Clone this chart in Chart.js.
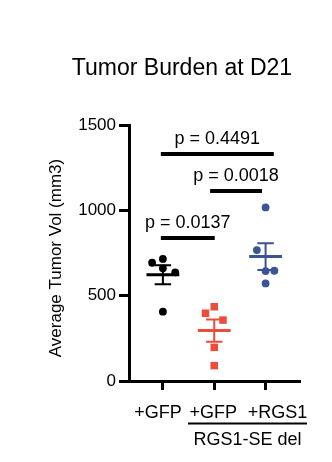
<!DOCTYPE html>
<html>
<head>
<meta charset="utf-8">
<script src="https://cdn.jsdelivr.net/npm/chart.js@4"></script>
<style>
  html, body { margin: 0; padding: 0; background: #fff; }
  canvas { display: block; }
</style>
</head>
<body>
<canvas id="myChart" width="332" height="462"></canvas>
<script>
// grupos y valores de cada raton (mm3)
const grupos = ["+GFP", "+GFP", "+RGS1"];
const gfpControl = [693, 715, 660, 637, 406];
const gfpDel = [435, 397, 357, 197, 90];
const rgs1Del = [1017, 767, 646, 644, 572];
// desplazamiento horizontal de cada punto (unidades del eje x)
const jitterControl = [-0.21, 0, 0, 0.24, 0];
const jitterGfpDel = [0, -0.17, 0.17, 0, 0];
const jitterRgs1 = [0, -0.17, 0.17, 0, 0];
// comparaciones: texto, altura de la barra y extremos en x
const pTextos = ["p = 0.0137", "p = 0.4491", "p = 0.0018"];
const pAltura = [838, 1330, 1113];
const pDesde = [-0.04, -0.04, 0.92];
const pHasta = [1.01, 2.16, 1.93];
const yTicks = [0, 500, 1000, 1500];

const FUENTE = "'Liberation Sans', Arial, sans-serif";
const colores = ["#000000", "rgb(234,77,60)", "rgb(58,84,148)"];
const series = [gfpControl, gfpDel, rgs1Del];
const jitters = [jitterControl, jitterGfpDel, jitterRgs1];

function media(arr) {
  return arr.reduce((a, b) => a + b, 0) / arr.length;
}
function sem(arr) {
  const m = media(arr);
  const v = arr.reduce((a, b) => a + (b - m) * (b - m), 0) / (arr.length - 1);
  return Math.sqrt(v / arr.length);
}

// lineas de media y error estandar, debajo de los puntos
const mediaSem = {
  id: "mediaSem",
  beforeDatasetsDraw(chart) {
    const { ctx, scales: { x, y } } = chart;
    ctx.save();
    series.forEach((vals, i) => {
      const m = media(vals), s = sem(vals);
      ctx.strokeStyle = colores[i];
      ctx.lineWidth = 3;
      ctx.beginPath();
      ctx.moveTo(x.getPixelForValue(i - 0.32), y.getPixelForValue(m));
      ctx.lineTo(x.getPixelForValue(i + 0.32), y.getPixelForValue(m));
      ctx.stroke();
      ctx.lineWidth = 2;
      ctx.beginPath();
      ctx.moveTo(x.getPixelForValue(i), y.getPixelForValue(m + s));
      ctx.lineTo(x.getPixelForValue(i), y.getPixelForValue(m - s));
      [m + s, m - s].forEach(v => {
        ctx.moveTo(x.getPixelForValue(i - 0.16), y.getPixelForValue(v));
        ctx.lineTo(x.getPixelForValue(i + 0.16), y.getPixelForValue(v));
      });
      ctx.stroke();
    });
    ctx.restore();
  }
};

// barras de significancia, titulos y etiquetas del eje x
const textos = {
  id: "textos",
  afterDraw(chart) {
    const { ctx, scales: { x, y } } = chart;
    ctx.save();
    ctx.fillStyle = "#000";
    ctx.strokeStyle = "#000";

    pTextos.forEach((t, i) => {
      const x0 = x.getPixelForValue(pDesde[i]);
      const x1 = x.getPixelForValue(pHasta[i]);
      const py = y.getPixelForValue(pAltura[i]);
      ctx.lineWidth = 4;
      ctx.beginPath();
      ctx.moveTo(x0, py);
      ctx.lineTo(x1, py);
      ctx.stroke();
      ctx.font = "18px " + FUENTE;
      ctx.textAlign = "center";
      ctx.textBaseline = "alphabetic";
      ctx.fillText(t, (x0 + x1) / 2, py - 10);
    });

    ctx.font = "23px " + FUENTE;
    ctx.textAlign = "center";
    ctx.fillText("Tumor Burden at D21", 182, 75);

    ctx.save();
    ctx.translate(56, 258);
    ctx.rotate(-Math.PI / 2);
    ctx.font = "17px " + FUENTE;
    ctx.textBaseline = "middle";
    ctx.fillText("Average Tumor Vol (mm3)", 0, 0);
    ctx.restore();

    // etiquetas de grupo
    ctx.font = "18px " + FUENTE;
    ctx.textBaseline = "alphabetic";
    const desplaz = [-5, -1, 12];
    grupos.forEach((g, i) => {
      ctx.fillText(g, x.getPixelForValue(i) + desplaz[i], 418);
    });
    ctx.lineWidth = 2;
    ctx.beginPath();
    ctx.moveTo(188, 423.5);
    ctx.lineTo(307, 423.5);
    ctx.stroke();
    ctx.fillText("RGS1-SE del", 247.5, 445);
    ctx.restore();
  }
};

const datasets = series.map((vals, i) => ({
  data: vals.map((v, k) => ({ x: i + jitters[i][k], y: v })),
  pointStyle: i === 1 ? "rect" : "circle",
  pointRadius: i === 1 ? 5.3 : 3.9,
  backgroundColor: colores[i],
  borderColor: colores[i],
  borderWidth: 0,
  showLine: false
}));

const config = {
  type: "scatter",
  data: { datasets },
  options: {
    responsive: false,
    animation: false,
    devicePixelRatio: 1,
    layout: { padding: { left: 0, top: 125, right: 32, bottom: 0 } },
    plugins: { legend: { display: false }, tooltip: { enabled: false } },
    scales: {
      x: {
        type: "linear",
        min: -0.66,
        max: 2.67,
        afterFit: (s) => { s.height = 81; },
        afterBuildTicks: (s) => { s.ticks = [0, 1, 2].map(v => ({ value: v })); },
        ticks: { display: false },
        grid: { drawOnChartArea: false, drawTicks: true, tickLength: 9, tickWidth: 3, tickColor: "#000" },
        border: { display: true, color: "#000", width: 3 }
      },
      y: {
        min: 0,
        max: 1500,
        afterFit: (s) => { s.width = 129; },
        afterBuildTicks: (s) => { s.ticks = yTicks.map(v => ({ value: v })); },
        ticks: {
          color: "#000",
          padding: 3,
          font: { family: FUENTE, size: 17 },
          callback: (v) => String(v) // sin separador de miles
        },
        grid: { drawOnChartArea: false, drawTicks: true, tickLength: 10, tickWidth: 3, tickColor: "#000" },
        border: { display: true, color: "#000", width: 3 }
      }
    }
  },
  plugins: [mediaSem, textos]
};

const myChart = new Chart(document.getElementById("myChart"), config);
</script>
</body>
</html>
